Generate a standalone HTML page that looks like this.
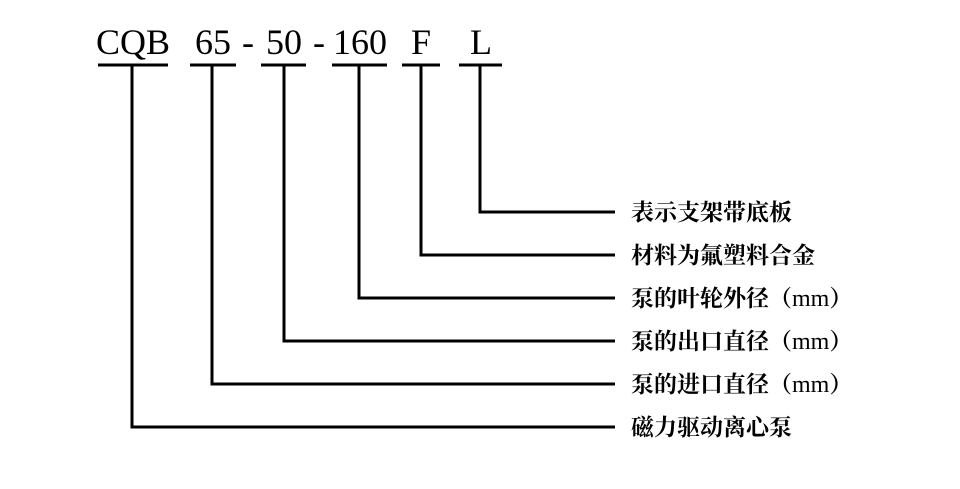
<!DOCTYPE html>
<html><head><meta charset="utf-8"><style>
body{margin:0;background:#fff;}
</style></head><body>
<svg width="960" height="484" xmlns="http://www.w3.org/2000/svg">
<g font-family="Liberation Serif, serif" font-size="36" fill="#000">
<text x="133" y="54" text-anchor="middle">CQB</text>
<text x="213" y="54" text-anchor="middle">65</text>
<text x="248" y="54" text-anchor="middle">-</text>
<text x="284" y="54" text-anchor="middle">50</text>
<text x="319" y="54" text-anchor="middle">-</text>
<text x="360" y="54" text-anchor="middle">160</text>
<text x="421" y="54" text-anchor="middle">F</text>
<text x="481" y="54" text-anchor="middle">L</text>
</g>
<g stroke="#000" stroke-width="3" fill="none">
<line x1="98" y1="65" x2="168" y2="65"/>
<line x1="190" y1="65" x2="236" y2="65"/>
<line x1="261" y1="65" x2="306" y2="65"/>
<line x1="332" y1="65" x2="387" y2="65"/>
<line x1="402" y1="65" x2="440" y2="65"/>
<line x1="459" y1="65" x2="502" y2="65"/>
<polyline points="480,65 480,212 615,212"/>
<polyline points="421,65 421,255 615,255"/>
<polyline points="359,65 359,298 615,298"/>
<polyline points="284,65 284,341 615,341"/>
<polyline points="212,65 212,384 615,384"/>
<polyline points="132,65 132,427 615,427"/>
</g>
<g font-family="Liberation Serif, 'Noto Serif CJK SC', serif" font-size="23" font-weight="bold" fill="#000">
<text x="631" y="220">表示支架带底板</text>
<text x="631" y="263">材料为氟塑料合金</text>
<text x="631" y="306">泵的叶轮外径（<tspan font-weight="normal" font-size="24">mm</tspan>）</text>
<text x="631" y="349">泵的出口直径（<tspan font-weight="normal" font-size="24">mm</tspan>）</text>
<text x="631" y="392">泵的进口直径（<tspan font-weight="normal" font-size="24">mm</tspan>）</text>
<text x="631" y="435">磁力驱动离心泵</text>
</g>
</svg>
</body></html>
